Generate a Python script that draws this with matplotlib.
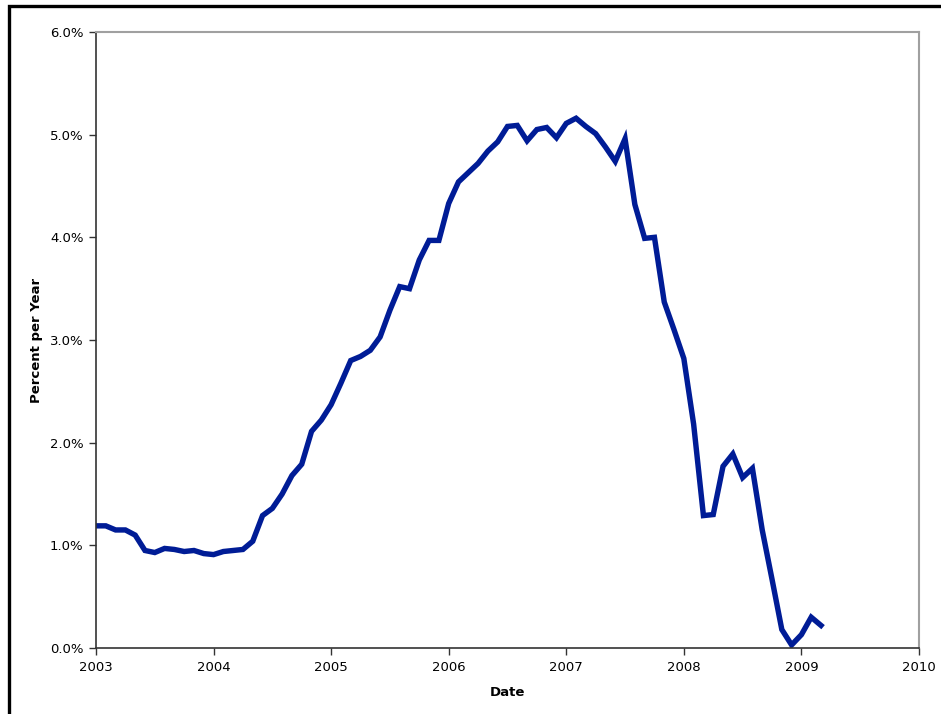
import matplotlib
matplotlib.use("Agg")
import matplotlib.pyplot as plt
from matplotlib.patches import Rectangle
from matplotlib.ticker import FuncFormatter
import numpy as np

# Monthly rate, January 2003 through March 2009 (percent per year)
start_year = 2003
rates = [
    1.19, 1.19, 1.15, 1.15, 1.10, 0.95, 0.93, 0.97, 0.96, 0.94, 0.95, 0.92,  # 2003
    0.91, 0.94, 0.95, 0.96, 1.04, 1.29, 1.36, 1.50, 1.68, 1.79, 2.11, 2.22,  # 2004
    2.37, 2.58, 2.80, 2.84, 2.90, 3.03, 3.29, 3.52, 3.50, 3.78, 3.97, 3.97,  # 2005
    4.33, 4.54, 4.63, 4.72, 4.84, 4.93, 5.08, 5.09, 4.94, 5.05, 5.07, 4.97,  # 2006
    5.11, 5.16, 5.08, 5.01, 4.88, 4.74, 4.96, 4.32, 3.99, 4.00, 3.37, 3.10,  # 2007
    2.82, 2.18, 1.29, 1.30, 1.77, 1.89, 1.66, 1.75, 1.15, 0.67, 0.18, 0.03,  # 2008
    0.13, 0.30, 0.22,                                                        # 2009
]
year_ticks = [2003, 2004, 2005, 2006, 2007, 2008, 2009, 2010]
pct_ticks = [0.0, 1.0, 2.0, 3.0, 4.0, 5.0, 6.0]

dates = start_year + np.arange(len(rates)) / 12.0

plt.rcParams["font.family"] = ["DejaVu Sans"]

fig = plt.figure(figsize=(9.41, 7.14), dpi=100)
ax = fig.add_axes([0.102, 0.0924, 0.8746, 0.8628])

ax.plot(dates, rates, color="#001C96", linewidth=3.9, solid_joinstyle="miter")

ax.set_xlim(2003, 2010)
ax.set_ylim(0, 6)
ax.set_xticks(year_ticks)
ax.set_yticks(pct_ticks)
ax.yaxis.set_major_formatter(FuncFormatter(lambda v, p: f"{v:.1f}%"))
ax.tick_params(axis="both", labelsize=9.5, length=5, width=1, color="#333333", pad=4)

ax.set_xlabel("Date", fontsize=9.5, fontweight="bold", labelpad=9)
ax.set_ylabel("Percent per Year", fontsize=9.5, fontweight="bold", labelpad=5)

for side in ("left", "bottom"):
    ax.spines[side].set_color("#333333")
    ax.spines[side].set_linewidth(1.2)
for side in ("top", "right"):
    ax.spines[side].set_color("#A0A0A0")
    ax.spines[side].set_linewidth(1.5)

# chart frame (only top and left edges fall inside the image)
fig.patches.append(Rectangle((8.5 / 941, -0.1), 1.2, 1.1 - 6.5 / 714, transform=fig.transFigure,
                             fill=False, edgecolor="black", linewidth=2.4))

fig.savefig("out.png", dpi=100)
